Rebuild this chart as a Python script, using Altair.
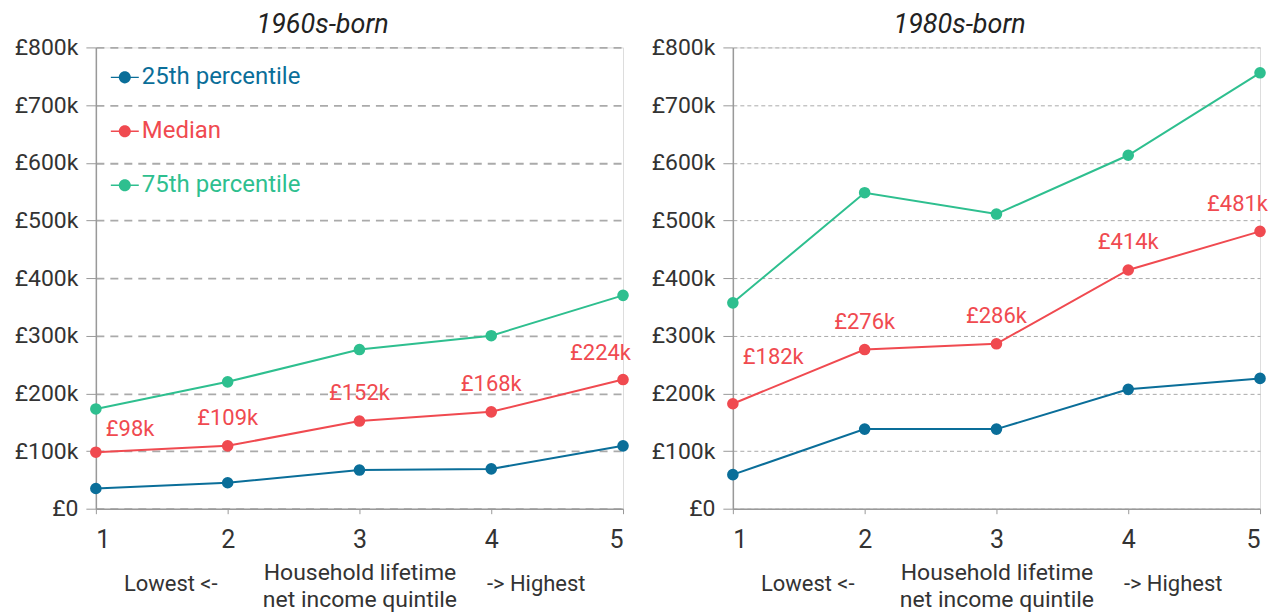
import altair as alt
import pandas as pd

# ---- data (values in £ thousands) ----
quintiles = [1, 2, 3, 4, 5]
series_names = ["25th percentile", "Median", "75th percentile"]
series_colors = ["#0a6e99", "#f04a50", "#2ebf8f"]

p25_1960 = [35, 45, 67, 69, 109]
med_1960 = [98, 109, 152, 168, 224]
p75_1960 = [173, 220, 276, 300, 370]

p25_1980 = [59, 138, 138, 207, 226]
med_1980 = [182, 276, 286, 414, 481]
p75_1980 = [357, 548, 511, 613, 756]

y_ticks = [0, 100, 200, 300, 400, 500, 600, 700, 800]
side_labels = ["Lowest <-", "-> Highest"]
x_title = ["Household lifetime", "net income quintile"]

FONT = "Liberation Sans Narrow, Roboto, sans-serif"
W, H = 528, 462
LEGEND_PATH = ("M-1,-0.05L1,-0.05L1,0.05L-1,0.05Z "
               "M0.43,0A0.43,0.43 0 1,1 -0.43,0A0.43,0.43 0 1,1 0.43,0Z")


def make_df(vals, name):
    return pd.DataFrame({"quintile": quintiles, "value": vals, "series": [name] * len(vals)})


def panel(title, p25, med, p75, grid_dash, grid_width, first_dy, show_legend):
    xs = alt.X("quintile:Q",
               scale=alt.Scale(domain=[1, 5], nice=False),
               axis=alt.Axis(values=quintiles, format="d", title=x_title,
                             labelFontSize=25, labelColor="#333", labelFont=FONT,
                             labelPadding=14, tickSize=5, tickColor="#999",
                             domainColor="#999", domainWidth=1.5, grid=False,
                             titleFont=FONT, titleFontSize=23, titleFontWeight="normal",
                             titleColor="#333", titlePadding=9, titleLineHeight=27))
    ys = alt.Y("value:Q",
               scale=alt.Scale(domain=[0, 800], nice=False),
               axis=alt.Axis(values=y_ticks, title=None,
                             labelExpr="datum.value == 0 ? '£0' : '£' + datum.value + 'k'",
                             labelFontSize=23, labelColor="#333", labelFont=FONT,
                             labelPadding=8, tickSize=10, tickColor="#999",
                             domainColor="#999", domainWidth=1.5,
                             grid=True, gridColor="#aaa", gridDash=grid_dash,
                             gridWidth=grid_width))
    layers = []
    for i, (vals, name, col) in enumerate(zip([p25, med, p75], series_names, series_colors)):
        df = make_df(vals, name)
        line = alt.Chart(df).mark_line(color=col, strokeWidth=2).encode(x=xs, y=ys)
        if show_legend:
            leg = alt.Legend(orient="none", legendX=15, legendY=16 + 54 * i, title=None,
                             padding=0, labelColor=col, labelFontSize=24, labelFont=FONT,
                             labelOffset=3, symbolType=LEGEND_PATH, symbolSize=784,
                             symbolFillColor=col, symbolStrokeWidth=0, symbolOpacity=1)
        else:
            leg = None
        pts = alt.Chart(df).mark_circle(size=135, opacity=1).encode(
            x=xs, y=ys,
            color=alt.Color("series:N", scale=alt.Scale(domain=[name], range=[col]), legend=leg))
        layers += [line, pts]
    mdf = make_df(med, "Median")
    txt = dict(color=series_colors[1], fontSize=22, font=FONT)
    lab = alt.Chart(mdf).transform_calculate(lbl="'£' + datum.value + 'k'").encode(
        x=xs, y=ys, text="lbl:N")
    t_first = lab.transform_filter("datum.quintile == 1").mark_text(
        align="left", dx=10, dy=first_dy, **txt)
    t_mid = lab.transform_filter("datum.quintile > 1 && datum.quintile < 5").mark_text(
        align="center", dy=-28, **txt)
    t_last = lab.transform_filter("datum.quintile == 5").mark_text(
        align="right", dx=8, dy=-27, **txt)
    sdf = pd.DataFrame({"t": side_labels})
    side_style = dict(fontSize=22, font=FONT, color="#333", align="center", baseline="middle")
    side_lo = alt.Chart(sdf).transform_filter("datum.t == 'Lowest <-'").mark_text(
        **side_style).encode(x=alt.value(75), y=alt.value(H + 75), text="t:N")
    side_hi = alt.Chart(sdf).transform_filter("datum.t == '-> Highest'").mark_text(
        **side_style).encode(x=alt.value(441), y=alt.value(H + 75), text="t:N")
    ch = alt.layer(*layers, t_first, t_mid, t_last, side_lo, side_hi).resolve_scale(
        color="independent").resolve_legend(color="independent").properties(
        width=W, height=H,
        title=alt.TitleParams(title, fontStyle="italic", fontSize=27, font=FONT,
                              fontWeight="normal", color="#222", anchor="middle",
                              frame="bounds", offset=-3))
    return ch


left = panel("1960s-born", p25_1960, med_1960, p75_1960, [8, 6], 1.8, -23, True)
right = panel("1980s-born", p25_1980, med_1980, p75_1980, [4, 3], 1, -47, False)

chart = alt.hconcat(left, right, spacing=18).properties(
    padding={"left": 5, "top": 2, "right": 5, "bottom": 5}
).configure_view(stroke=None).configure(font=FONT, background="white")

chart.save("out.html", embed_options={"renderer": "svg", "actions": False})
